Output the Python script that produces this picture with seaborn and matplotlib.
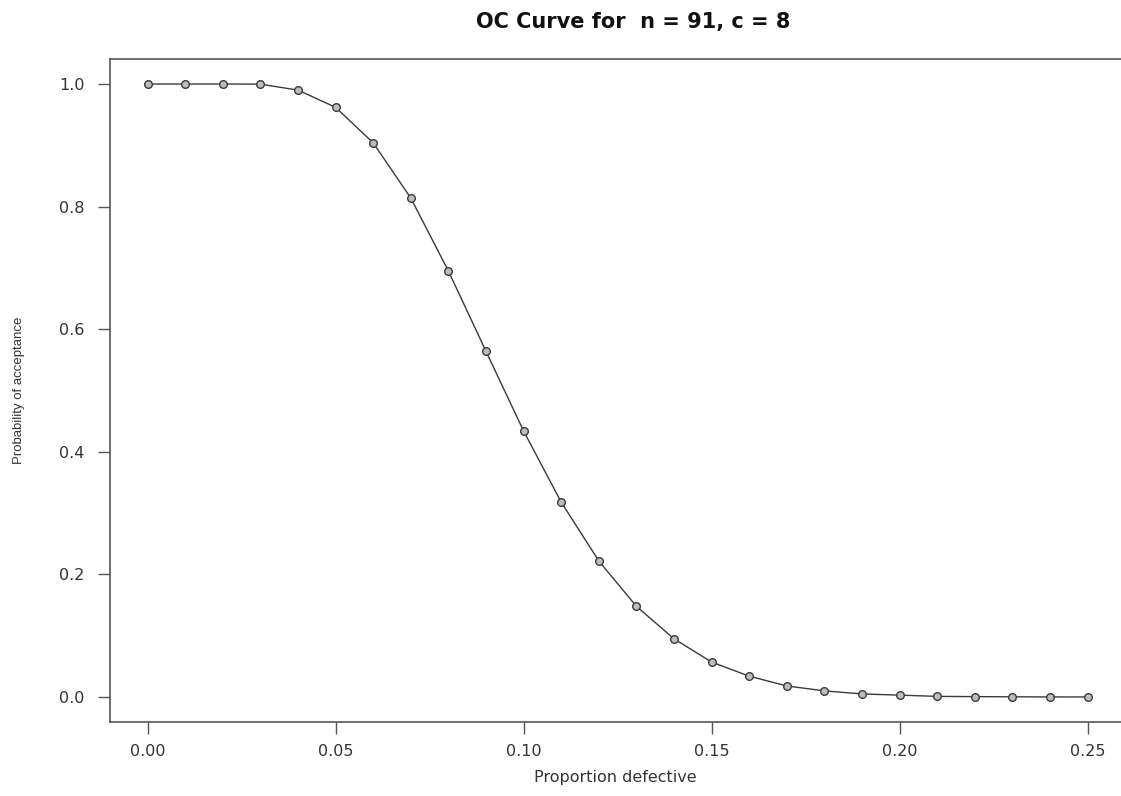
import matplotlib
matplotlib.use("Agg")
import matplotlib.pyplot as plt
import seaborn as sns
import pandas as pd

proportion_defective = [0.00, 0.01, 0.02, 0.03, 0.04, 0.05, 0.06, 0.07, 0.08, 0.09,
                        0.10, 0.11, 0.12, 0.13, 0.14, 0.15, 0.16, 0.17, 0.18, 0.19,
                        0.20, 0.21, 0.22, 0.23, 0.24, 0.25]
prob_acceptance = [1.000, 1.000, 1.000, 0.9998, 0.990, 0.962, 0.904, 0.814, 0.695, 0.564,
                   0.434, 0.318, 0.222, 0.148, 0.095, 0.057, 0.034, 0.018, 0.010, 0.005,
                   0.003, 0.001, 0.0006, 0.0003, 0.0001, 0.0000]
x_ticks = [0.00, 0.05, 0.10, 0.15, 0.20, 0.25]
x_tick_labels = ["0.00", "0.05", "0.10", "0.15", "0.20", "0.25"]
y_ticks = [0.0, 0.2, 0.4, 0.6, 0.8, 1.0]
y_tick_labels = ["0.0", "0.2", "0.4", "0.6", "0.8", "1.0"]

df = pd.DataFrame({"p": proportion_defective, "pa": prob_acceptance})

sns.set_style("white")
plt.rcParams["font.family"] = ["DejaVu Sans"]

fig = plt.figure(figsize=(11.21, 7.96), dpi=100)
ax = fig.add_axes([110 / 1121, 1 - 722 / 796, 1 - 110 / 1121, (722 - 59) / 796])

sns.lineplot(data=df, x="p", y="pa", ax=ax, color="#3a3a3a", linewidth=1.0,
             marker="o", markersize=5.5, markerfacecolor="#bdbdbd",
             markeredgecolor="#3a3a3a", markeredgewidth=1.0)

ax.set_xlim(-0.01, 0.2589)
ax.set_ylim(-0.0408, 1.0408)
ax.set_xticks(x_ticks)
ax.set_xticklabels(x_tick_labels)
ax.set_yticks(y_ticks)
ax.set_yticklabels(y_tick_labels)
ax.tick_params(axis="both", direction="out", length=8.5, width=1.0, color="#555555",
               labelsize=11.5, labelcolor="#333333", bottom=True, left=True)
ax.tick_params(axis="x", pad=7)
ax.tick_params(axis="y", pad=10)
for side in ["left", "bottom", "top"]:
    ax.spines[side].set_visible(True)
    ax.spines[side].set_color("#555555")
    ax.spines[side].set_linewidth(1.2)
ax.spines["right"].set_visible(False)

ax.set_xlabel("Proportion defective", fontsize=11.5, color="#333333", labelpad=8)
ax.set_ylabel("Probability of acceptance", fontsize=9.5, color="#333333", labelpad=24,
              family=["Liberation Sans", "DejaVu Sans"])
fig.text(633.5 / 1121, 1 - 28 / 796, "OC Curve for  n = 91, c = 8", ha="center",
         va="baseline", fontsize=15, fontweight="bold", color="#111111")

fig.savefig("out.png", dpi=100)
